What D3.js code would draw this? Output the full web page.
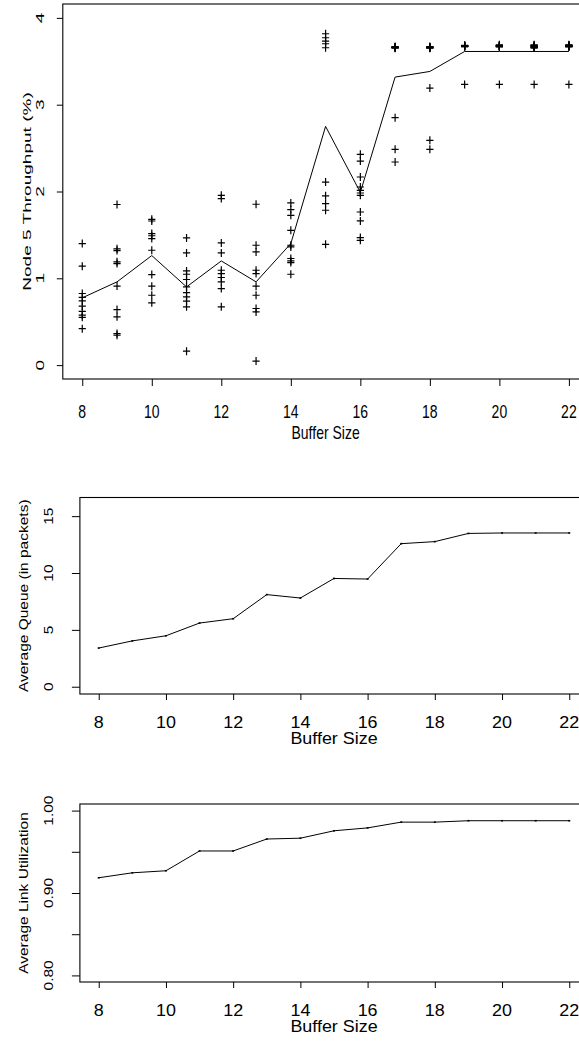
<!DOCTYPE html>
<html><head><meta charset="utf-8">
<script src="https://cdn.jsdelivr.net/npm/d3@7"></script>
<style>
body{margin:0;background:#fff}
svg text{font-family:"Liberation Sans",Arial,Helvetica,sans-serif;fill:#000}
</style>
</head><body>
<svg id="c" width="579" height="1041"></svg>
<script>
// ---------------- data ----------------
const bufferSizes = [8,9,10,11,12,13,14,15,16,17,18,19,20,21,22];
const xTickValues = [8,10,12,14,16,18,20,22];

// Node 5 throughput (%) : individual runs per buffer size
const tput8  = [1.40,1.14,0.825,0.78,0.74,0.68,0.62,0.575,0.55,0.42];
const tput9  = [1.85,1.34,1.32,1.19,1.17,0.91,0.64,0.556,0.364,0.345];
const tput10 = [1.68,1.66,1.515,1.49,1.458,1.323,1.043,0.909,0.805,0.717];
const tput11 = [1.465,1.292,1.085,1.047,0.986,0.901,0.836,0.786,0.736,0.671,0.161];
const tput12 = [1.956,1.918,1.408,1.292,1.093,1.055,1.009,0.959,0.882,0.671];
const tput13 = [1.853,1.381,1.304,1.093,1.055,0.909,0.805,0.652,0.613,0.046];
const tput14 = [1.868,1.792,1.726,1.553,1.381,1.362,1.228,1.200,1.181,1.047];
const tput15 = [3.817,3.771,3.732,3.702,3.656,2.109,1.95,1.861,1.784,1.392];
const tput16 = [2.428,2.351,2.167,2.052,2.014,1.983,1.956,1.764,1.661,1.469,1.438];
const tput17 = [3.656,3.660,3.665,3.670,3.662,3.650,3.658,2.85,2.486,2.34];
const tput18 = [3.656,3.660,3.670,3.665,3.650,3.662,3.655,3.191,2.589,2.486];
const tput19 = [3.675,3.680,3.670,3.685,3.672,3.678,3.668,3.680,3.675,3.234];
const tput20 = [3.672,3.680,3.668,3.685,3.676,3.690,3.666,3.680,3.674,3.234];
const tput21 = [3.690,3.660,3.675,3.680,3.652,3.670,3.685,3.660,3.675,3.234];
const tput22 = [3.675,3.682,3.668,3.686,3.672,3.678,3.690,3.680,3.665,3.234];
const tputRuns = [tput8,tput9,tput10,tput11,tput12,tput13,tput14,tput15,tput16,tput17,tput18,tput19,tput20,tput21,tput22];
const tputMean = [0.775,0.959,1.262,0.901,1.200,0.959,1.40,2.750,1.99,3.318,3.383,3.613,3.613,3.613,3.613];
const tputTicks = [0,1,2,3,4];

// Average queue (packets)
const avgQueue = [3.40,4.03,4.48,5.60,5.98,8.10,7.80,9.52,9.47,12.58,12.76,13.48,13.52,13.52,13.52];
const queueTicks = [0,5,10,15];

// Average link utilization
const avgUtil = [0.9185,0.9245,0.927,0.951,0.951,0.9655,0.9665,0.9755,0.979,0.986,0.986,0.9877,0.9877,0.9877,0.9877];
const utilTicks = [0.80,0.85,0.90,0.95,1.00];
const utilLabels = ["0.80","","0.90","","1.00"];

// ---------------- drawing ----------------
const svg = d3.select("#c");

function label(g, x, y, s, size, sx, sy, rot){
  g.append("text")
    .attr("transform", `translate(${x},${y}) scale(${sx},${sy}) rotate(${rot})`)
    .attr("text-anchor","middle")
    .style("font-size", size+"px")
    .text(s);
}

function panel(cfg){
  const g = svg.append("g");
  const x = d3.scaleLinear().domain([7.44,22.56]).range([cfg.left, cfg.left + 15.12*cfg.unit]);
  const yr = cfg.ylim[1]-cfg.ylim[0];
  const y = d3.scaleLinear().domain([cfg.ylim[0]-0.04*yr, cfg.ylim[1]+0.04*yr]).range([cfg.bottom, cfg.top]);

  // box
  g.append("rect").attr("x", x.range()[0]).attr("y", cfg.top)
    .attr("width", x.range()[1]-x.range()[0]).attr("height", cfg.bottom-cfg.top)
    .attr("fill","none").attr("stroke","#000").attr("stroke-width",1.1);

  // axes (ticks only)
  const xa = g.append("g").attr("transform",`translate(0,${cfg.bottom})`)
    .call(d3.axisBottom(x).tickValues(xTickValues).tickSize(cfg.xTick).tickFormat(""));
  xa.select(".domain").remove();
  xa.selectAll("line").attr("stroke","#000");
  const ya = g.append("g").attr("transform",`translate(${x.range()[0]},0)`)
    .call(d3.axisLeft(y).tickValues(cfg.yTicks).tickSize(cfg.yTick).tickFormat(""));
  ya.select(".domain").remove();
  ya.selectAll("line").attr("stroke","#000");

  // tick labels
  xTickValues.forEach(v => label(g, x(v), cfg.xLabBase, String(v), cfg.hSize, cfg.hsx, cfg.hsy, 0));
  cfg.yTicks.forEach((v,i) => {
    const s = cfg.yLabels[i];
    if (s) label(g, cfg.yLabBase, y(v), s, cfg.rSize, cfg.rsx, cfg.rsy, -90);
  });
  // axis titles
  label(g, (x.range()[0]+x.range()[1])/2, cfg.xTitleBase, "Buffer Size", cfg.hSize, cfg.hsx, cfg.hsy, 0);
  label(g, cfg.yTitleBase, (cfg.top+cfg.bottom)/2, cfg.ylab, cfg.rSize, cfg.rsx, cfg.rsy, -90);

  return {g,x,y};
}

// --- top panel ---
const p1 = panel({left:62.8, unit:34.76, top:4, bottom:379, ylim:[0,4],
  yTicks:tputTicks, yLabels:tputTicks.map(String), xTick:7, yTick:6,
  xLabBase:417.5, xTitleBase:439, yLabBase:43.5, yTitleBase:31,
  hSize:14, hsx:1, hsy:1.33, rSize:14, rsx:0.8, rsy:1.36, ylab:"Node 5 Throughput (%)"});

const plusData = [];
bufferSizes.forEach((b,i) => tputRuns[i].forEach(v => plusData.push([b,v])));
p1.g.append("g").selectAll("path").data(plusData).join("path")
  .attr("d", d => {
    const cx = p1.x(d[0]), cy = p1.y(d[1]);
    return `M${cx-3.6},${cy}H${cx+3.6}M${cx},${cy-4}V${cy+4}`;
  })
  .attr("stroke","#000").attr("stroke-width",1.2).attr("fill","none");

p1.g.append("path").datum(bufferSizes.map((b,i)=>[b,tputMean[i]]))
  .attr("d", d3.line().x(d=>p1.x(d[0])).y(d=>p1.y(d[1])))
  .attr("fill","none").attr("stroke","#000").attr("stroke-width",1);

// --- middle panel ---
const p2 = panel({left:79.9, unit:33.61, top:497.5, bottom:694, ylim:[0,16],
  yTicks:queueTicks, yLabels:queueTicks.map(String), xTick:6, yTick:8,
  xLabBase:728, xTitleBase:744, yLabBase:52.5, yTitleBase:28,
  hSize:16, hsx:1.12, hsy:1, rSize:15.5, rsx:0.85, rsy:1, ylab:"Average Queue (in packets)"});
p2.g.append("path").datum(bufferSizes.map((b,i)=>[b,avgQueue[i]]))
  .attr("d", d3.line().x(d=>p2.x(d[0])).y(d=>p2.y(d[1])))
  .attr("fill","none").attr("stroke","#000").attr("stroke-width",1);
p2.g.append("g").selectAll("rect").data(bufferSizes.map((b,i)=>[b,avgQueue[i]])).join("rect")
  .attr("x",d=>p2.x(d[0])-1).attr("y",d=>p2.y(d[1])-0.8).attr("width",2).attr("height",1.6).attr("fill","#000");

// --- bottom panel ---
const p3 = panel({left:79.9, unit:33.61, top:804, bottom:982, ylim:[0.8,1.0],
  yTicks:utilTicks, yLabels:utilLabels, xTick:6, yTick:8,
  xLabBase:1016, xTitleBase:1032, yLabBase:52.5, yTitleBase:28,
  hSize:16, hsx:1.12, hsy:1, rSize:15.5, rsx:0.85, rsy:1, ylab:"Average Link Utilization"});
p3.g.append("path").datum(bufferSizes.map((b,i)=>[b,avgUtil[i]]))
  .attr("d", d3.line().x(d=>p3.x(d[0])).y(d=>p3.y(d[1])))
  .attr("fill","none").attr("stroke","#000").attr("stroke-width",1);
p3.g.append("g").selectAll("rect").data(bufferSizes.map((b,i)=>[b,avgUtil[i]])).join("rect")
  .attr("x",d=>p3.x(d[0])-1).attr("y",d=>p3.y(d[1])-0.8).attr("width",2).attr("height",1.6).attr("fill","#000");
</script>
</body></html>
